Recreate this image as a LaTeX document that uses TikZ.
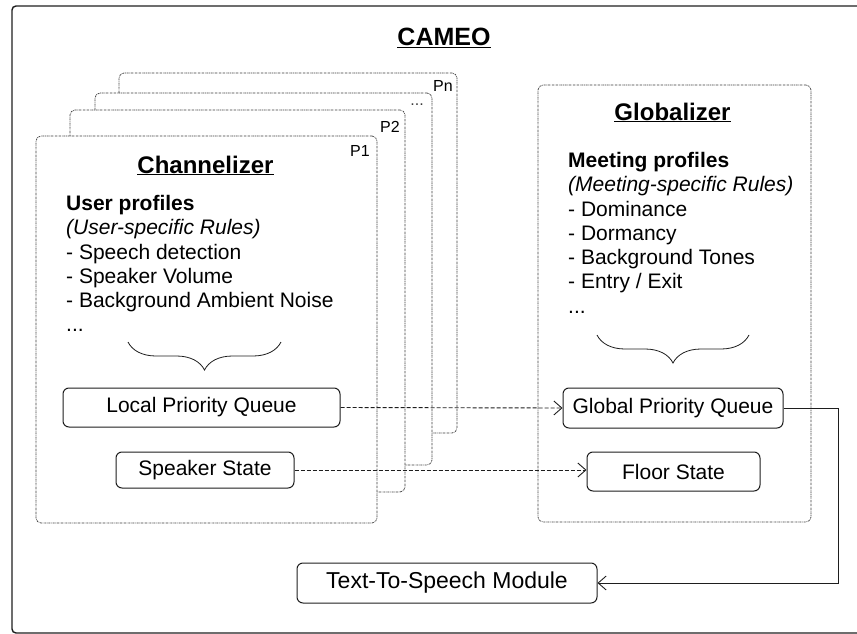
\documentclass[tikz,border=0pt]{standalone}
\usepackage{fontspec}
\setmainfont{Liberation Sans}
\usetikzlibrary{arrows.meta,positioning,calc,decorations.pathreplacing}
\definecolor{framegray}{RGB}{30,30,30}
\definecolor{dotgray}{RGB}{60,60,60}

\begin{document}
\begin{tikzpicture}[x=1pt, y=-1pt,
  stack/.style={draw=dotgray, fill=white, line width=0.7pt,
                dash pattern=on 2pt off 0.8pt on 0.6pt off 0.8pt,
                rounded corners=5pt, inner sep=0pt},
  comp/.style={draw=framegray, line width=1pt, rounded corners=6pt,
               inner sep=0pt, font=\fontsize{21}{24}\selectfont},
  plabel/.style={font=\fontsize{16}{18}\selectfont, anchor=base east, inner sep=0pt},
  heading/.style={font=\bfseries\fontsize{24}{28}\selectfont, anchor=base, inner sep=0pt},
  rules/.style={font=\fontsize{21}{24.3}\selectfont, align=left,
                anchor=north west, inner sep=0pt},
  arr/.style={-{Straight Barb[length=8pt,width=14pt]}, line width=0.9pt, framegray},
  flow/.style={arr, dash pattern=on 4pt off 2pt},
  curly/.style={decorate, decoration={brace, amplitude=28pt, mirror},
                line width=0.8pt, framegray}
]
\useasboundingbox (0,0) rectangle (857,634);
\clip (0,0) rectangle (857,634);
% outer frame
\draw[framegray, line width=1.4pt, rounded corners=4pt] (12,6) rectangle (880,633);
\node[heading, font=\bfseries\fontsize{25}{30}\selectfont] (title) at (444,46) {\underline{CAMEO}};

% stacked channelizers, back to front
\node[stack, minimum width=338, minimum height=360] (pn) at (288,253) {};
\node[stack, minimum width=337, minimum height=372] (pdots) at (263.5,279) {};
\node[stack, minimum width=335, minimum height=382] (p2) at (237.5,301) {};
\node[stack, minimum width=341, minimum height=387] (p1) at (206.5,329.5) {};
\node[plabel] (pnlbl) at (453,92) {Pn};
\node[plabel, text=dotgray] (dotslbl) at (424,106) {...};
\node[plabel] (p2lbl) at (400,132) {P2};
\node[plabel] (p1lbl) at (370,156) {P1};

% globalizer
\node[stack, minimum width=273, minimum height=437] (glob) at (674.5,303.5) {};

\node[heading] (chan) at (205.5,173) {\underline{Channelizer}};
\node[heading] (globhead) at (672.5,120) {\underline{Globalizer}};

\node[rules] (userrules) at (66,195) {\textbf{User profiles}\\
  \textit{(User-specific Rules)}\\
  - Speech detection\\
  - Speaker Volume\\
  - Background Ambient Noise\\
  ...};
\node[rules] (meetrules) at (568,152) {\textbf{Meeting profiles}\\
  \textit{(Meeting-specific Rules)}\\
  - Dominance\\
  - Dormancy\\
  - Background Tones\\
  - Entry / Exit\\
  ...};

\draw[curly] (128,342) -- (281,342);
\draw[curly] (597,335) -- (749,335);

\node[comp, minimum width=277, minimum height=39] (lpq) at (201.5,407.5) {Local Priority Queue};
\node[comp, minimum width=178, minimum height=36] (spk) at (205,470) {Speaker State};
\node[comp, minimum width=220, minimum height=40] (gpq) at (673,408) {Global Priority Queue};
\node[comp, minimum width=173, minimum height=39] (floor) at (673.5,471.5) {Floor State};
\node[comp, minimum width=300, minimum height=40,
      font=\fontsize{23}{26}\selectfont] (tts) at (447,583) {Text-To-Speech Module};

\draw[flow] (lpq.east) -- (gpq.west);
\draw[flow] (spk.east) -- (spk.east -| floor.west);
\draw[arr] (gpq.east) -- ++(55,0) |- (tts.east);
\end{tikzpicture}
\end{document}
